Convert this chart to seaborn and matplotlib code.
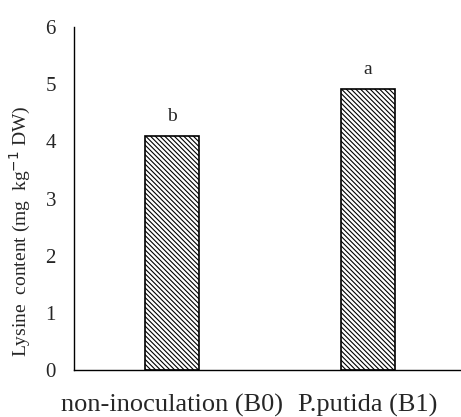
import matplotlib
matplotlib.use("Agg")
import matplotlib.pyplot as plt
import seaborn as sns
import pandas as pd

treatments = ["non-inoculation (B0)", "P.putida (B1)"]
lysine = [4.09, 4.92]
letters = ["b", "a"]

sns.set_style("white")
plt.rcParams["font.family"] = ["Liberation Serif", "DejaVu Serif"]
plt.rcParams["hatch.linewidth"] = 0.8

df = pd.DataFrame({"treatment": treatments, "lysine": lysine})

fig = plt.figure(figsize=(4.61, 4.17), dpi=100)
ax = fig.add_axes([74 / 461, 47 / 417, 392 / 461, 343 / 417])

sns.barplot(data=df, x="treatment", y="lysine", color="white",
            edgecolor="black", linewidth=1.2, width=0.275, ax=ax)
for bar in ax.patches:
    bar.set_hatch("\\" * 7)

for bar, val, lab in zip(ax.patches, lysine, letters):
    ax.annotate(lab, (bar.get_x() + bar.get_width() / 2, val),
                xytext=(0, 8), textcoords="offset points",
                ha="center", va="bottom", fontsize=14)

ax.set_xlim(-0.5, 1.5)
ax.set_ylim(0, 6)
ax.set_yticks(range(0, 7))
sns.despine(ax=ax)
for s in ("left", "bottom"):
    ax.spines[s].set_color("black")
    ax.spines[s].set_linewidth(1.0)
ax.tick_params(axis="y", length=0, pad=13, labelsize=15)
ax.tick_params(axis="x", length=0, pad=17, labelsize=19)
ax.set_xlabel("")
ax.set_ylabel("Lysine  content (mg  kg$^{-1}$ DW)", fontsize=14)
ax.yaxis.set_label_coords(-0.105, 0.405)

fig.savefig("out.png", dpi=100)
